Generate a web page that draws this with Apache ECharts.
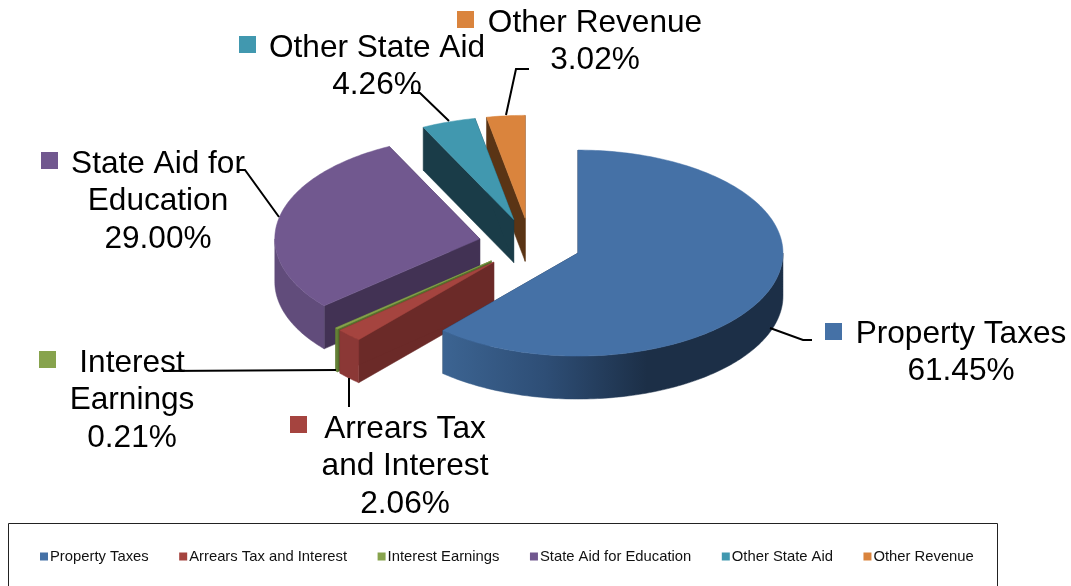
<!DOCTYPE html>
<html>
<head>
<meta charset="utf-8">
<title>Revenue sources</title>
<style>html,body{margin:0;padding:0;background:#fff}#chart{width:1071px;height:586px}</style>
<script src="https://cdn.jsdelivr.net/npm/echarts@6/dist/echarts.min.js"></script>
</head>
<body>
<div id="chart"></div>
<script>
// Revenue shares, percent of total, in clockwise order from twelve o'clock
const categories = ['Property Taxes', 'Arrears Tax and Interest', 'Interest Earnings', 'State Aid for Education', 'Other State Aid', 'Other Revenue'];
const shares = [61.45, 2.06, 0.21, 29.00, 4.26, 3.02];

// Face colours per slice
const topColors = ['#4571A6', '#A5443F', '#87A34D', '#71588F', '#4198AF', '#DA843D'];
const wallColors = ['#1C2F47', '#6B2A28', '#55702C', '#423254', '#1A3C48', '#5A3415'];
const rimColors = ['#1C2F47', '#8B3836', '#668238', '#614C7B', '#2C6878', '#95592A'];

// Projection of the tilted pie
const pie = { cx: 530, cy: 244, rx: 205, ry: 103, depth: 43, explode: 0.25 };

// Label blocks: text lines, anchor, swatch and leader path
const labelLayout = [
  { lines: ['Property Taxes'], x: 961, y: 334, swatch: [825, 323], leader: [[770, 328], [803, 340], [812, 340]] },
  { lines: ['Arrears Tax', 'and Interest'], x: 405, y: 429, swatch: [290, 416], leader: [[349, 378], [349, 407]] },
  { lines: ['Interest', 'Earnings'], x: 132, y: 363, swatch: [39, 351], leader: [[336, 370], [163, 371]] },
  { lines: ['State Aid for', 'Education'], x: 158, y: 164, swatch: [41, 152], leader: [[279, 217], [245, 170], [238, 170]] },
  { lines: ['Other State Aid'], x: 377, y: 48, swatch: [239, 36], leader: [[449, 121], [420, 93], [411, 93]] },
  { lines: ['Other Revenue'], x: 595, y: 23, swatch: [457, 11], leader: [[506, 115], [516, 69], [529, 69]] }
];

const LABEL_FONT = '31.6px "Liberation Sans", Arial, sans-serif';
const LINE_HEIGHT = 37.5;

// Cumulative start and end angles in degrees, clockwise from the top
const spans = [];
shares.reduce((sum, v) => {
  const total = shares.reduce((a, b) => a + b, 0);
  const next = sum + v;
  spans.push([sum / total * 360, next / total * 360]);
  return next;
}, 0);

const rad = d => d * Math.PI / 180;

function renderSlice(index) {
  return function () {
    const [a0, a1] = spans[index];
    const mid = rad((a0 + a1) / 2);
    const cx = pie.cx + Math.sin(mid) * pie.explode * pie.rx;
    const cy = pie.cy - Math.cos(mid) * pie.explode * pie.ry;
    const onRim = a => [cx + Math.sin(rad(a)) * pie.rx, cy - Math.cos(rad(a)) * pie.ry];
    const arc = (from, to) => {
      const pts = [];
      const n = Math.max(1, Math.ceil(to - from));
      for (let i = 0; i <= n; i++) pts.push(onRim(from + (to - from) * i / n));
      return pts;
    };
    const drop = p => [p[0], p[1] + pie.depth];
    const face = (points, fill) => ({
      type: 'polygon',
      shape: { points },
      style: { fill, stroke: fill, lineWidth: 0.5 }
    });
    const wall = a => {
      const o = onRim(a);
      return face([[cx, cy], o, drop(o), [cx, cy + pie.depth]], wallColors[index]);
    };

    const children = [wall(a0), wall(a1)];

    // Outer rim, only where it faces the viewer
    const r0 = Math.max(a0, 90), r1 = Math.min(a1, 270);
    if (r1 > r0) {
      const top = arc(r0, r1);
      const xs = top.map(p => p[0]);
      let fill = rimColors[index];
      if (index === 0) {
        fill = {
          type: 'linear', global: true,
          x: Math.min(...xs), y: 0, x2: Math.max(...xs), y2: 0,
          colorStops: [
            { offset: 0, color: '#3C6492' },
            { offset: 0.3, color: '#2E4E76' },
            { offset: 0.6, color: '#1C2F47' },
            { offset: 1, color: '#1C2F47' }
          ]
        };
      }
      children.push(face(top.concat(top.map(drop).reverse()), fill));
    }

    children.push(face([[cx, cy]].concat(arc(a0, a1)), topColors[index]));
    return { type: 'group', children };
  };
}

// Painted back to front so nearer slices cover the walls behind them
const drawOrder = [5, 4, 3, 2, 1, 0];
const series = drawOrder.map(i => ({
  type: 'custom',
  name: categories[i],
  coordinateSystem: 'none',
  itemStyle: { color: topColors[i] },
  data: [shares[i]],
  silent: true,
  renderItem: renderSlice(i)
}));

// Data labels, swatches and leader lines
const labelGraphics = [];
labelLayout.forEach((item, i) => {
  labelGraphics.push({
    type: 'polyline', z: 20,
    shape: { points: item.leader },
    style: { stroke: '#000', lineWidth: 2, fill: 'none' }
  });
  labelGraphics.push({
    type: 'rect', z: 21,
    shape: { x: item.swatch[0], y: item.swatch[1], width: 17, height: 17 },
    style: { fill: topColors[i] }
  });
  labelGraphics.push({
    type: 'text', z: 22, x: item.x, y: item.y - LINE_HEIGHT / 2,
    style: {
      text: item.lines.concat(shares[i].toFixed(2) + '%').join('\n'),
      font: LABEL_FONT, lineHeight: LINE_HEIGHT,
      fill: '#000', align: 'center', verticalAlign: 'top'
    }
  });
});

const chart = echarts.init(document.getElementById('chart'), null, { renderer: 'canvas' });
chart.setOption({
  animation: false,
  backgroundColor: '#fff',
  legend: {
    data: categories,
    left: 40, top: 549,
    orient: 'horizontal',
    icon: 'rect',
    itemWidth: 8, itemHeight: 8,
    itemGap: 30.5,
    padding: 0,
    selectedMode: false,
    textStyle: { fontFamily: '"Liberation Sans", Arial, sans-serif', fontSize: 14.8, color: '#111', padding: [0, 0, 0, -3] }
  },
  graphic: {
    elements: [
      {
        type: 'rect', z: 0,
        shape: { x: 8.5, y: 523.5, width: 989, height: 80 },
        style: { fill: '#fff', stroke: '#222', lineWidth: 1 }
      }
    ].concat(labelGraphics)
  },
  series
});
</script>
</body>
</html>
